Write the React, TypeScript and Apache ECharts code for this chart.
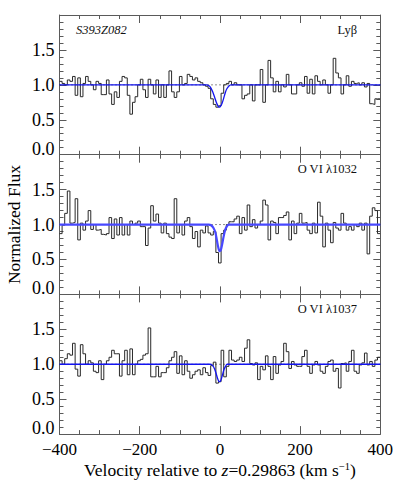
import React, { useEffect, useRef } from "react";
import * as echarts from "echarts";

// Velocity grid (km/s): left edge of first bin and bin width
const VEL_START = -400;
const VEL_STEP = 6.5;

// Normalized flux per velocity bin
const LYB_FLUX = [
  1.05, 1.02, 1.0, 1.07, 1.05, 1.12, 0.85, 1.1, 0.83, 1.02,
  1.12, 1.05, 1.0, 0.93, 1.05, 1.02, 0.86, 0.86, 1.07, 0.87,
  0.72, 0.9, 0.82, 1.05, 1.12, 1.1, 0.85, 0.58, 0.75, 0.83,
  1.0, 1.08, 0.93, 0.82, 1.08, 1.0, 0.87, 1.07, 0.82, 1.0,
  0.82, 1.0, 1.2, 0.9, 0.82, 0.9, 1.12, 1.0, 1.02, 1.15,
  1.12, 1.07, 1.1, 1.05, 1.03, 1.0, 0.98, 0.95, 0.8, 0.72,
  0.68, 0.7, 0.88, 1.0, 1.02, 1.05, 1.0, 1.03, 1.0, 1.0,
  0.8, 0.85, 0.87, 1.0, 0.77, 1.0, 1.0, 1.22, 0.75, 1.0,
  1.35, 1.1, 0.9, 1.05, 0.9, 1.0, 0.97, 1.15, 1.0, 0.87,
  0.87, 1.0, 1.03, 0.98, 1.12, 0.88, 1.08, 0.87, 1.13, 1.05,
  1.0, 1.07, 1.0, 0.88, 1.0, 1.38, 1.17, 1.1, 0.87, 1.0,
  1.13, 0.98, 1.05, 1.02, 1.03, 1.0, 1.03, 0.97, 1.02, 0.73,
  0.72, 0.8, 0.8,
];

const OVI1032_FLUX = [
  0.87, 0.99, 1.16, 1.48, 1.02, 1.03, 1.37, 0.78, 1.02, 0.92,
  1.05, 1.2, 0.93, 1.0, 0.92, 0.93, 0.86, 0.85, 0.87, 1.1,
  0.8, 1.08, 0.85, 1.1, 0.85, 1.0, 0.85, 1.05, 1.0, 1.02,
  1.05, 0.97, 0.97, 0.7, 0.95, 1.27, 1.05, 1.15, 1.02, 0.88,
  1.02, 0.87, 0.82, 0.8, 1.37, 0.88, 1.0, 0.85, 1.05, 1.1,
  0.97, 0.8, 0.9, 0.68, 0.92, 0.88, 0.98, 0.88, 0.85, 0.9,
  0.6, 0.45, 0.87, 0.92, 1.0, 1.04, 1.04, 1.08, 1.12, 0.87,
  1.1, 0.92, 1.28, 0.97, 1.07, 0.95, 1.0, 1.05, 1.35, 1.28,
  0.78, 1.05, 1.03, 0.87, 1.1, 1.1, 1.13, 1.18, 0.78, 1.05,
  0.87, 1.02, 1.16, 1.02, 1.03, 0.92, 0.87, 1.02, 0.88, 1.32,
  1.12, 0.68, 1.02, 0.92, 0.74, 1.03, 0.95, 0.92, 1.16, 1.02,
  0.92, 0.97, 0.92, 1.0, 0.97, 1.02, 0.92, 1.02, 0.58, 1.12,
  1.24, 1.2, 0.87,
];

const OVI1037_FLUX = [
  1.05, 1.0, 1.08, 1.15, 1.13, 1.3, 0.93, 0.83, 1.28, 1.15,
  1.0, 1.05, 1.02, 0.9, 0.88, 1.05, 0.78, 1.0, 1.05, 1.1,
  1.2, 1.15, 1.15, 0.83, 1.05, 1.2, 0.85, 1.22, 0.85, 1.0,
  1.05, 1.07, 1.13, 1.15, 1.52, 0.82, 0.82, 0.97, 0.82, 0.88,
  0.88, 0.95, 1.05, 1.1, 1.18, 0.87, 1.12, 0.85, 1.05, 0.9,
  0.8, 0.85, 0.9, 0.92, 0.85, 0.95, 0.88, 0.84, 0.98, 1.03,
  0.73, 0.75, 1.2, 0.82, 0.97, 1.2, 1.06, 1.04, 1.06, 1.1,
  1.04, 1.23, 1.35, 1.01, 0.99, 1.02, 0.78, 0.97, 0.92, 1.12,
  0.97, 0.78, 1.11, 0.87, 0.99, 1.04, 1.3, 1.18, 0.94, 1.04,
  0.99, 0.97, 0.97, 1.11, 1.2, 0.97, 0.87, 0.99, 1.04, 0.99,
  0.9, 0.87, 0.97, 1.04, 1.06, 0.9, 0.94, 0.66, 1.01, 1.02,
  0.9, 1.04, 1.2, 0.9, 0.87, 0.99, 1.02, 1.16, 0.99, 1.04,
  0.97, 1.06, 1.1,
];

// Fitted absorption models: [velocity, flux]
const LYB_FIT = [
  [-400, 1], [-33, 1], [-28, 0.99], [-23, 0.96], [-18, 0.9], [-13, 0.82],
  [-9, 0.75], [-5, 0.7], [-2, 0.68], [1, 0.69], [5, 0.73], [9, 0.8],
  [13, 0.88], [17, 0.94], [22, 0.98], [27, 1], [400, 1],
];
const OVI1032_FIT = [
  [-400, 1], [-28, 1], [-22, 0.99], [-16, 0.95], [-11, 0.88], [-7, 0.76],
  [-4, 0.67], [-1, 0.62], [2, 0.63], [5, 0.7], [9, 0.82], [13, 0.92],
  [17, 0.97], [22, 1], [400, 1],
];
const OVI1037_FIT = [
  [-400, 1], [-24, 1], [-18, 0.98], [-13, 0.93], [-9, 0.86], [-6, 0.8],
  [-3, 0.76], [0, 0.75], [3, 0.78], [6, 0.84], [10, 0.92], [14, 0.97],
  [18, 1], [400, 1],
];

const CONTINUUM = [[-400, 1], [400, 1]];

const PANEL_LABELS = ["Ly\u03b2", "O VI \u03bb1032", "O VI \u03bb1037"];
const TARGET_NAME = "S393Z082";
const X_TICKS = [-400, -200, 0, 200, 400];
const Y_TICKS = [0.0, 0.5, 1.0, 1.5];

const FONT = "Liberation Serif";
const FRAME = "#5a5a5a";

function histData(vals: number[]) {
  const pts = vals.map((v, i) => [VEL_START + i * VEL_STEP, v]);
  pts.push([VEL_START + vals.length * VEL_STEP, vals[vals.length - 1]]);
  return pts;
}

export default function App() {
  const ref = useRef<HTMLDivElement>(null);
  useEffect(() => {
    if (!ref.current) return;
    const chart = echarts.init(ref.current, null, { renderer: "svg" });
    const tops = [15, 154.7, 294.4];
    const height = 139.7;
    const left = 59.5;
    const width = 320.8;
    const fluxes = [LYB_FLUX, OVI1032_FLUX, OVI1037_FLUX];
    const fits = [LYB_FIT, OVI1032_FIT, OVI1037_FIT];

    const grids = tops.map((t) => ({ left, top: t, width, height }));
    const xAxes: any[] = [];
    const yAxes: any[] = [];
    const series: any[] = [];
    tops.forEach((_, k) => {
      const isBottom = k === 2;
      const xBase = {
        type: "value",
        gridIndex: k,
        min: -400,
        max: 400,
        interval: 200,
        splitLine: { show: false },
        axisLine: { show: true, onZero: false, lineStyle: { color: FRAME, width: 1 } },
        axisTick: { show: true, inside: true, length: 8, lineStyle: { color: FRAME } },
        minorTick: { show: true, splitNumber: 4, length: 4, lineStyle: { color: FRAME } },
      };
      xAxes.push({
        ...xBase,
        position: "bottom",
        axisLabel: {
          show: isBottom,
          margin: 7,
          fontFamily: FONT,
          fontSize: 17,
          color: "#000",
          formatter: (v: number) =>
            X_TICKS.includes(v) ? (v < 0 ? "\u2212" + Math.abs(v) : String(v)) : "",
        },
      });
      xAxes.push({ ...xBase, position: "top", axisLabel: { show: false } });
      const yBase = {
        type: "value",
        gridIndex: k,
        min: 0,
        max: 2,
        interval: 0.5,
        splitLine: { show: false },
        axisLine: { show: true, onZero: false, lineStyle: { color: FRAME, width: 1 } },
        axisTick: { show: true, inside: true, length: 7, lineStyle: { color: FRAME } },
        minorTick: { show: true, splitNumber: 5, length: 4, lineStyle: { color: FRAME } },
      };
      yAxes.push({
        ...yBase,
        position: "left",
        axisLabel: {
          show: true,
          margin: 5,
          fontFamily: FONT,
          fontSize: 18,
          color: "#000",
          formatter: (v: number) => {
            const hit = Y_TICKS.find((t) => Math.abs(t - v) < 1e-6);
            if (hit === undefined) return "";
            if (hit === 0) return "{z|0.0}";
            return hit.toFixed(1);
          },
          rich: {
            z: { fontFamily: FONT, fontSize: 18, color: "#000", padding: [0, 0, 12, 0] },
          },
        },
      });
      yAxes.push({ ...yBase, position: "right", axisLabel: { show: false } });

      series.push({
        type: "line",
        xAxisIndex: 2 * k,
        yAxisIndex: 2 * k,
        data: CONTINUUM,
        symbol: "none",
        silent: true,
        lineStyle: { color: "#222", width: 1, type: [1, 3] },
        z: 1,
      });
      series.push({
        type: "line",
        xAxisIndex: 2 * k,
        yAxisIndex: 2 * k,
        data: histData(fluxes[k]),
        step: "end",
        symbol: "none",
        silent: true,
        lineStyle: { color: "#2a2a2a", width: 1 },
        z: 2,
      });
      series.push({
        type: "line",
        xAxisIndex: 2 * k,
        yAxisIndex: 2 * k,
        data: fits[k],
        smooth: 0.25,
        symbol: "none",
        silent: true,
        lineStyle:
          k === 1
            ? { color: "#4848ff", width: 2.2 }
            : { color: "#1414f0", width: 1.3 },
        z: 3,
      });
    });

    const graphic: any[] = [
      {
        type: "text",
        left: 76,
        top: 23,
        style: {
          text: TARGET_NAME,
          fontFamily: FONT,
          fontSize: 12.5,
          fontStyle: "italic",
          fill: "#111",
        },
      },
      ...PANEL_LABELS.map((lab, k) => ({
        type: "text",
        x: 357,
        y: tops[k] + 14.5,
        style: {
          text: lab,
          fontFamily: FONT,
          fontSize: 12.5,
          fill: "#111",
          textAlign: "right",
          textVerticalAlign: "middle",
        },
      })),
      {
        type: "text",
        x: 14,
        y: 224.5,
        rotation: Math.PI / 2,
        style: {
          text: "Normalized Flux",
          fontFamily: FONT,
          fontSize: 17.5,
          fill: "#000",
          textAlign: "center",
          textVerticalAlign: "middle",
        },
      },
      {
        type: "text",
        x: 220,
        y: 470,
        style: {
          text: "{a|Velocity relative to }{i|z}{a|=0.29863 (km s}{s|\u22121}{a|)}",
          fontFamily: FONT,
          fontSize: 17.5,
          textAlign: "center",
          textVerticalAlign: "middle",
          rich: {
            a: { fontFamily: FONT, fontSize: 17.5, fill: "#000", lineHeight: 18 },
            i: { fontFamily: FONT, fontSize: 17.5, fontStyle: "italic", fill: "#000", lineHeight: 18 },
            s: { fontFamily: FONT, fontSize: 10.5, fill: "#000", verticalAlign: "top", lineHeight: 18 },
          },
        },
      },
    ];

    chart.setOption({
      animation: false,
      grid: grids,
      xAxis: xAxes,
      yAxis: yAxes,
      series,
      graphic,
    });
    return () => chart.dispose();
  }, []);
  return (
    <div
      ref={ref}
      style={{ position: "absolute", left: 0, top: 0, width: 409, height: 498, background: "#fff" }}
    />
  );
}
